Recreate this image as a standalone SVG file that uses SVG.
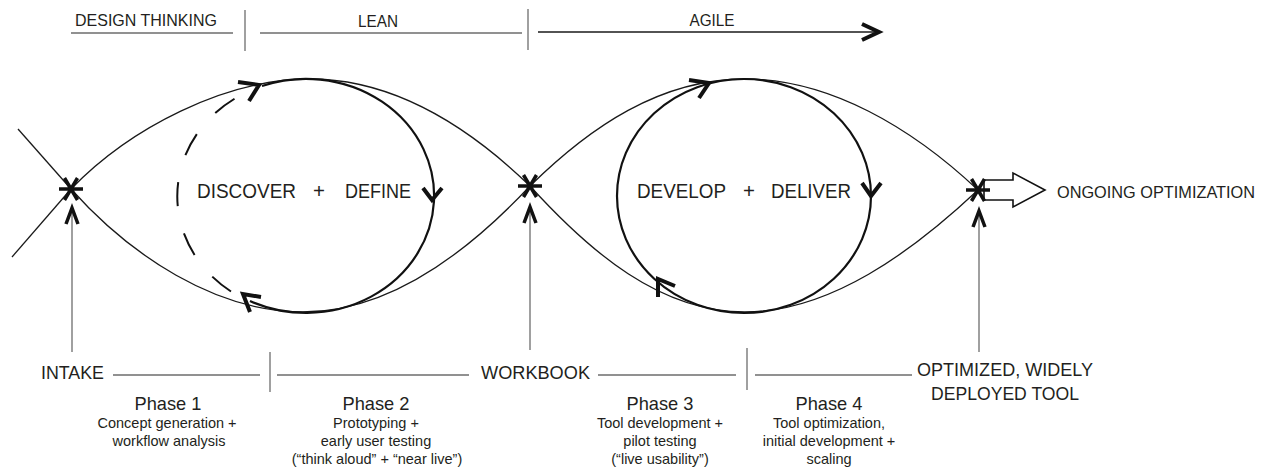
<svg xmlns="http://www.w3.org/2000/svg" width="1268" height="468" viewBox="0 0 1268 468">
<defs>
<style>
text { font-family: "Liberation Sans", Arial, sans-serif; fill: #231f20; }
.top { font-size: 17px; text-anchor: middle; }
.big { font-size: 20.5px; text-anchor: middle; }
.lbl { font-size: 18.5px; text-anchor: middle; }
.ph { font-size: 19px; text-anchor: middle; }
.desc { font-size: 14.5px; text-anchor: middle; }
.thin { fill: none; stroke: #1a1a1a; stroke-width: 1.3; }
.gray { fill: none; stroke: #6d6d6d; stroke-width: 1.3; }
.loop { fill: none; stroke: #111; stroke-width: 2.2; }
.dash { fill: none; stroke: #111; stroke-width: 2; stroke-dasharray: 24 28; }
.chev { fill: none; stroke: #111; stroke-width: 4; stroke-linejoin: miter; stroke-miterlimit: 10; }
.ast { fill: none; stroke: #111; stroke-width: 3.5; }
.hollow { fill: #fff; stroke: #111; stroke-width: 1.6; stroke-linejoin: miter; }
</style>
<path id="star" class="ast" d="M-12,0H12M-6.5,-11L6.5,11M6.5,-11L-6.5,11"/>
</defs>

<g id="connectors">
  <!-- top method bar -->
  <path class="gray" d="M71,33H233"/>
  <path class="gray" d="M245,10V51"/>
  <path class="gray" d="M260,33H522"/>
  <path class="gray" d="M528,9V50"/>
  <path class="thin" d="M538,32H878"/>
  <polyline class="chev" points="862,24 879,32 862,40"/>

  <!-- X lines at intake -->
  <path class="thin" d="M18,129L71,189"/>
  <path class="thin" d="M12,257L71,189"/>

  <!-- lens curves -->
  <path class="thin" d="M71,189C130,128 225,79 310,79C395,79 470,128 530,186"/>
  <path class="thin" d="M71,189C130,255 215,312 303,312C390,312 470,250 530,186"/>
  <path class="thin" d="M530,186C590,127 660,79 745,79C830,79 912,128 978,190"/>
  <path class="thin" d="M530,186C590,252 660,312 745,312C830,312 912,252 978,190"/>

  <!-- discover/define loop -->
  <path class="loop" d="M262,86A128,117 0 1,1 250,301"/>
  <path class="dash" d="M231,291.5A128,117 0 0,1 243,94"/>
  <polyline class="chev" points="238,82 259,85 249,101"/>
  <polyline class="chev" points="423,188 432,200 442,188"/>
  <polyline class="chev" points="261,297 243,294 250,312"/>

  <!-- develop/deliver loop -->
  <ellipse class="loop" cx="744" cy="196" rx="127" ry="117"/>
  <polyline class="chev" points="689,80 709,83 699,98"/>
  <polyline class="chev" points="862,183 871,196 881,183"/>
  <polyline class="chev" points="675,286 658,279 658,297"/>

  <!-- vertical input arrows -->
  <path class="gray" d="M72,209V352"/>
  <polyline class="chev" style="stroke-width:3.5" points="66,224 72,208 78,224"/>
  <path class="gray" d="M530,209V350"/>
  <polyline class="chev" style="stroke-width:3.5" points="524,223 530,207 536,223"/>
  <path class="gray" d="M979,213V352"/>
  <polyline class="chev" style="stroke-width:3.5" points="973,227 979,211 985,227"/>

  <!-- bottom timeline -->
  <path class="gray" d="M113,375H260"/>
  <path class="gray" d="M270,352V392"/>
  <path class="gray" d="M277,375H469"/>
  <path class="gray" d="M598,375H736"/>
  <path class="gray" d="M747,348V390"/>
  <path class="gray" d="M755,375H912"/>
</g>

<g id="node-design-thinking"><text class="top" x="146" y="25.5" textLength="142" lengthAdjust="spacingAndGlyphs">DESIGN THINKING</text></g>
<g id="node-lean"><text class="top" x="378" y="26.5" textLength="40" lengthAdjust="spacingAndGlyphs">LEAN</text></g>
<g id="node-agile"><text class="top" x="712" y="25.5" textLength="45" lengthAdjust="spacingAndGlyphs">AGILE</text></g>

<g id="node-intake-star"><use href="#star" x="71" y="189"/></g>
<g id="node-workbook-star"><use href="#star" x="530" y="186"/></g>
<g id="node-optimized-star">
  <polygon class="hollow" points="984,180 1013,180 1013,173 1045,190 1013,207 1013,200 984,200"/>
  <use href="#star" x="978" y="190"/>
</g>

<g id="node-discover-define">
  <text class="big" x="246.5" y="197.5" textLength="99" lengthAdjust="spacingAndGlyphs">DISCOVER</text>
  <text class="big" x="319" y="197.5">+</text>
  <text class="big" x="378" y="197.5" textLength="66" lengthAdjust="spacingAndGlyphs">DEFINE</text>
</g>
<g id="node-develop-deliver">
  <text class="big" x="681.5" y="197.5" textLength="89" lengthAdjust="spacingAndGlyphs">DEVELOP</text>
  <text class="big" x="749" y="197.5">+</text>
  <text class="big" x="811" y="197.5" textLength="80" lengthAdjust="spacingAndGlyphs">DELIVER</text>
</g>
<g id="node-ongoing"><text x="1057" y="198" style="font-size:16.5px" textLength="198" lengthAdjust="spacingAndGlyphs">ONGOING OPTIMIZATION</text></g>

<g id="node-intake"><text class="lbl" x="72.5" y="378.5" textLength="63" lengthAdjust="spacingAndGlyphs">INTAKE</text></g>
<g id="node-workbook"><text class="lbl" x="535.5" y="378.5" textLength="109" lengthAdjust="spacingAndGlyphs">WORKBOOK</text></g>
<g id="node-optimized">
  <text class="lbl" x="1005" y="375.5" textLength="176" lengthAdjust="spacingAndGlyphs">OPTIMIZED, WIDELY</text>
  <text class="lbl" x="1005" y="399.5" textLength="148" lengthAdjust="spacingAndGlyphs">DEPLOYED TOOL</text>
</g>

<g id="node-phase1">
  <text class="ph" x="168" y="410" textLength="67" lengthAdjust="spacingAndGlyphs">Phase 1</text>
  <text class="desc" x="167" y="428">Concept generation +</text>
  <text class="desc" x="169" y="446">workflow analysis</text>
</g>
<g id="node-phase2">
  <text class="ph" x="376" y="410" textLength="67" lengthAdjust="spacingAndGlyphs">Phase 2</text>
  <text class="desc" x="376" y="428">Prototyping +</text>
  <text class="desc" x="376" y="446">early user testing</text>
  <text class="desc" x="377" y="464">(“think aloud” + “near live”)</text>
</g>
<g id="node-phase3">
  <text class="ph" x="660" y="410" textLength="67" lengthAdjust="spacingAndGlyphs">Phase 3</text>
  <text class="desc" x="660" y="428">Tool development +</text>
  <text class="desc" x="660" y="446">pilot testing</text>
  <text class="desc" x="660" y="464">(“live usability”)</text>
</g>
<g id="node-phase4">
  <text class="ph" x="829" y="410" textLength="67" lengthAdjust="spacingAndGlyphs">Phase 4</text>
  <text class="desc" x="829" y="428">Tool optimization,</text>
  <text class="desc" x="829" y="446">initial development +</text>
  <text class="desc" x="829" y="464">scaling</text>
</g>
</svg>
